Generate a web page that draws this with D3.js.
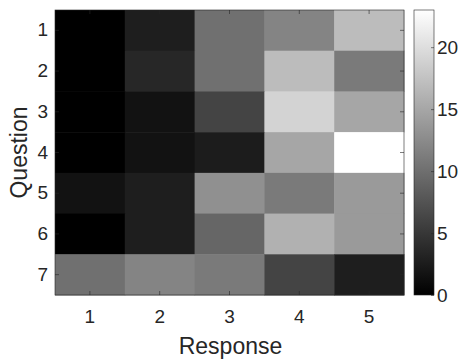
<!DOCTYPE html>
<html>
<head>
<meta charset="utf-8">
<script src="https://cdn.jsdelivr.net/npm/d3@7"></script>
<style>
  body { margin: 0; background: #fff; }
  svg text { font-family: "Liberation Sans", Arial, sans-serif; fill: #262626; }
</style>
</head>
<body>
<div id="chart"></div>
<script>
// Heatmap: Question x Response
const questions = [1, 2, 3, 4, 5, 6, 7];
const responses = [1, 2, 3, 4, 5];
const values = [
  [0, 2.7, 10.1, 11.9, 17.0],
  [0, 3.5, 10.1, 17.0, 11.0],
  [0, 1.6, 6.1, 19.0, 15.0],
  [0, 1.6, 2.5, 15.0, 23.0],
  [1.6, 2.7, 13.0, 11.0, 13.9],
  [0, 2.7, 9.2, 16.0, 13.9],
  [10.1, 11.9, 11.0, 6.1, 2.7]
];
const colorTicks = [0, 5, 10, 15, 20];
const colorMax = 23;

const W = 460, H = 360;
const plot = { left: 55, top: 10, right: 404, bottom: 295 };
const cbar = { left: 414, right: 434 };
const fs = 19;

const svg = d3.select('#chart').append('svg').attr('width', W).attr('height', H);

const x = d3.scaleBand().domain(responses).range([plot.left, plot.right]);
const y = d3.scaleBand().domain(questions).range([plot.top, plot.bottom]);
const color = d3.scaleLinear().domain([0, colorMax]).range(['#000000', '#ffffff']).clamp(true);

const cells = [];
values.forEach((row, i) => row.forEach((v, j) => cells.push({ q: questions[i], r: responses[j], v })));

svg.append('g').selectAll('rect').data(cells).enter().append('rect')
  .attr('x', d => x(d.r)).attr('y', d => y(d.q))
  .attr('width', x.bandwidth() + 0.5).attr('height', y.bandwidth() + 0.5)
  .attr('fill', d => color(d.v));

// axes (ticks inside, box on)
const tickLen = 4;
const ax = svg.append('g');
ax.append('g').attr('transform', `translate(0,${plot.bottom})`)
  .call(d3.axisBottom(x).tickSize(-tickLen).tickPadding(15))
  .call(g => g.select('.domain').remove());
ax.append('g').attr('transform', `translate(0,${plot.top})`)
  .call(d3.axisTop(x).tickSize(-tickLen).tickFormat(''))
  .call(g => g.select('.domain').remove());
ax.append('g').attr('transform', `translate(${plot.left},0)`)
  .call(d3.axisLeft(y).tickSize(-tickLen).tickPadding(7))
  .call(g => g.select('.domain').remove());
ax.append('g').attr('transform', `translate(${plot.right},0)`)
  .call(d3.axisRight(y).tickSize(-tickLen).tickFormat(''))
  .call(g => g.select('.domain').remove());
ax.selectAll('g').attr('font-size', fs).attr('font-family', null);
ax.selectAll('.tick line').attr('stroke', '#262626').attr('stroke-width', 0.6);
ax.selectAll('.tick text').style('font-size', fs + 'px').style('fill', '#262626');

svg.append('rect')
  .attr('x', plot.left).attr('y', plot.top)
  .attr('width', plot.right - plot.left).attr('height', plot.bottom - plot.top)
  .attr('fill', 'none').attr('stroke', '#262626').attr('stroke-width', 0.6);

svg.append('text')
  .attr('x', (plot.left + plot.right) / 2 + 1).attr('y', 354)
  .attr('text-anchor', 'middle').style('font-size', '23px')
  .text('Response');
svg.append('text')
  .attr('transform', `translate(27,${(plot.top + plot.bottom) / 2}) rotate(-90)`)
  .attr('text-anchor', 'middle').style('font-size', '23px')
  .text('Question');

// colorbar
const defs = svg.append('defs');
const grad = defs.append('linearGradient').attr('id', 'cb')
  .attr('x1', 0).attr('y1', 1).attr('x2', 0).attr('y2', 0);
grad.append('stop').attr('offset', 0).attr('stop-color', color(0));
grad.append('stop').attr('offset', 1).attr('stop-color', color(colorMax));

const cy = d3.scaleLinear().domain([0, colorMax]).range([plot.bottom, plot.top]);
svg.append('rect')
  .attr('x', cbar.left).attr('y', plot.top)
  .attr('width', cbar.right - cbar.left).attr('height', plot.bottom - plot.top)
  .attr('fill', 'url(#cb)').attr('stroke', '#262626').attr('stroke-width', 0.6);
const cax = svg.append('g').attr('transform', `translate(${cbar.right},0)`)
  .call(d3.axisRight(cy).tickValues(colorTicks).tickSize(-3).tickPadding(3))
  .call(g => g.select('.domain').remove());
cax.attr('font-size', fs).attr('font-family', null);
cax.selectAll('.tick line').attr('stroke', '#262626').attr('stroke-width', 0.6);
cax.selectAll('.tick text').style('font-size', fs + 'px').style('fill', '#262626');
</script>
</body>
</html>
